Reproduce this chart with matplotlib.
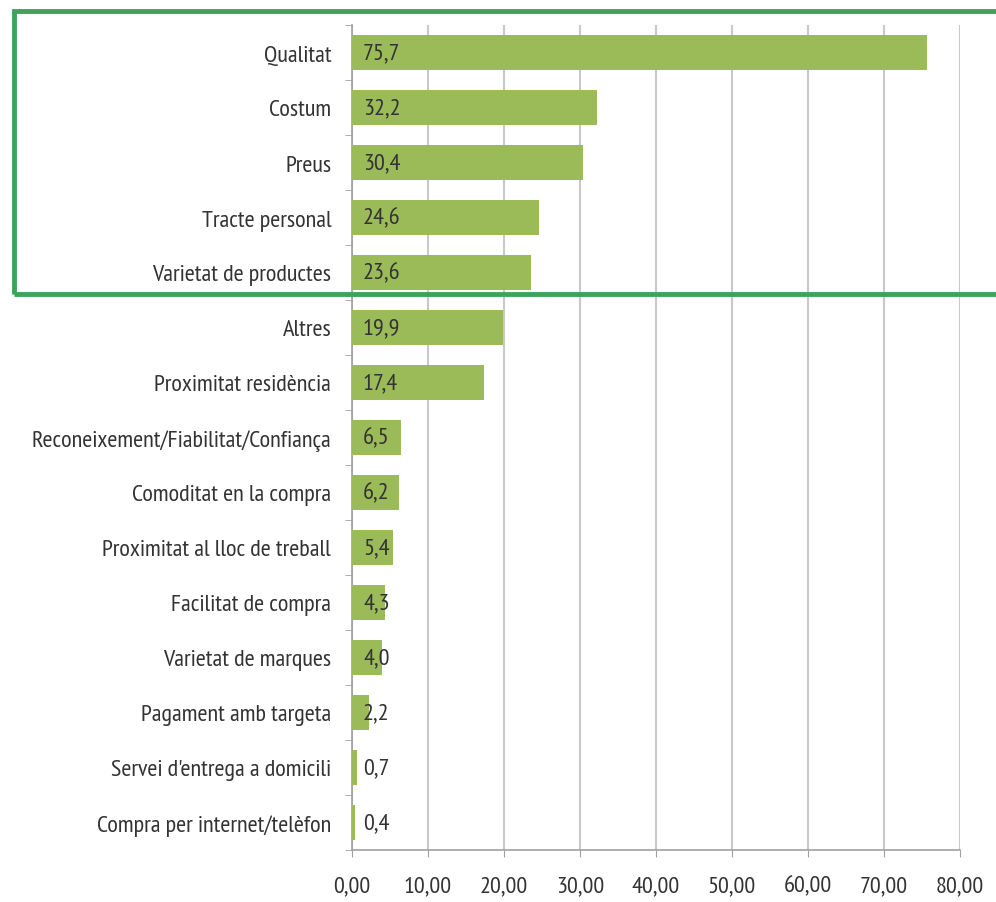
import matplotlib
matplotlib.use("Agg")
import matplotlib.pyplot as plt
from matplotlib.patches import Rectangle

categories = ["Qualitat", "Costum", "Preus", "Tracte personal", "Varietat de productes",
              "Altres", "Proximitat residència", "Reconeixement/Fiabilitat/Confiança",
              "Comoditat en la compra", "Proximitat al lloc de treball", "Facilitat de compra",
              "Varietat de marques", "Pagament amb targeta", "Servei d'entrega a domicili",
              "Compra per internet/telèfon"]
values = [75.7, 32.2, 30.4, 24.6, 23.6, 19.9, 17.4, 6.5, 6.2, 5.4, 4.3, 4.0, 2.2, 0.7, 0.4]
value_labels = ["75,7", "32,2", "30,4", "24,6", "23,6", "19,9", "17,4", "6,5", "6,2",
                "5,4", "4,3", "4,0", "2,2", "0,7", "0,4"]
xticks = [0, 10, 20, 30, 40, 50, 60, 70, 80]
xtick_labels = ["0,00", "10,00", "20,00", "30,00", "40,00", "50,00", "60,00", "70,00", "80,00"]

plt.rcParams['font.family'] = ['PT Sans Narrow', 'Carlito', 'DejaVu Sans']
TXT = "#333333"

fig = plt.figure(figsize=(9.96, 9.03), dpi=100)
W, H = 996, 903

# fit font size so the longest category label is ~302 px wide
probe = fig.text(0, 0, "Reconeixement/Fiabilitat/Confiança", fontsize=14)
fig.canvas.draw()
w = probe.get_window_extent().width
probe.remove()
fs = 14 * 302.0 / w

ax = fig.add_axes([352 / W, 1 - 851 / H, (960 - 352) / W, (851 - 26) / H])

n = len(categories)
ypos = list(range(n))
ax.barh(ypos, values, height=0.65, color="#9bbb59", zorder=3)
ax.set_ylim(n - 0.5, -0.5)
ax.set_xlim(0, 80)
ax.set_xticks(xticks)
ax.set_xticklabels(xtick_labels, fontsize=fs, color=TXT)
ax.set_yticks(ypos)
ax.set_yticklabels(categories, fontsize=fs, color=TXT)
ax.tick_params(axis='y', length=0, pad=15)
ax.tick_params(axis='x', length=5, color="#a0a0a0", pad=13)
ax.set_yticks([i + 0.5 for i in range(-1, n)], minor=True)
ax.tick_params(axis='y', which='minor', length=5, color="#a0a0a0")
ax.grid(axis='x', color="#c8c8c8", linewidth=1.5, zorder=0)
for s in ["top", "right"]:
    ax.spines[s].set_visible(False)
for s in ["left", "bottom"]:
    ax.spines[s].set_color("#a0a0a0")
    ax.spines[s].set_linewidth(1.2)

for y, v, lab in zip(ypos, values, value_labels):
    ax.text(1.45, y, lab, va='center', ha='left', fontsize=fs, color=TXT, zorder=4)

# green highlight box
fig.patches.append(Rectangle((14 / W, 1 - 295 / H), (1010 - 14) / W, (295 - 12) / H,
                             transform=fig.transFigure, fill=False,
                             edgecolor="#3ea35a", linewidth=3.5, zorder=10))

fig.savefig("out.png", dpi=100)
